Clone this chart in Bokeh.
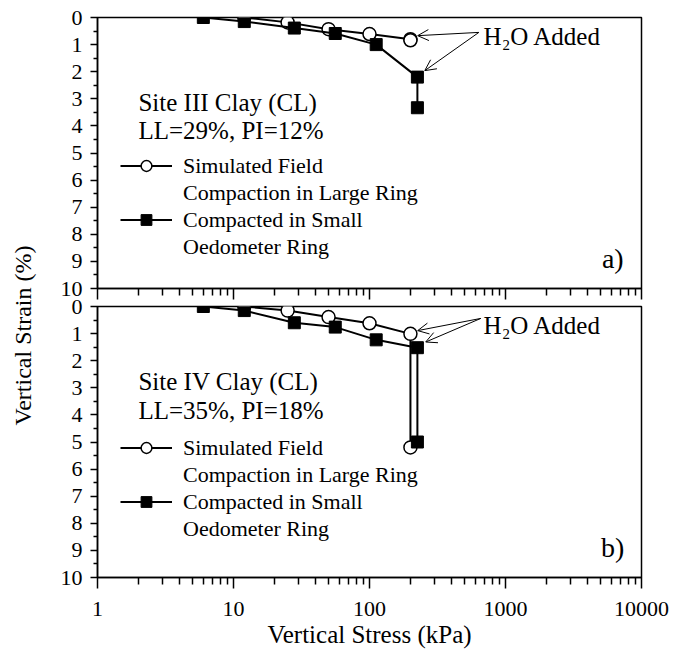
import math
from bokeh.plotting import figure
from bokeh.layouts import row, column
from bokeh.models import (Range1d, FixedTicker, Label, Arrow, OpenHead, Legend,
                          LegendItem, ColumnDataSource)
from bokeh.embed import file_html
from bokeh.resources import INLINE

# ---------------- data ----------------
# Panel a) Site III Clay
a_circle_stress = [12, 25, 50, 100, 200, 200]
a_circle_strain = [0.0, 0.18, 0.43, 0.61, 0.80, 0.84]
a_square_stress = [6, 12, 28, 56, 112, 225, 225]
a_square_strain = [0.0, 0.15, 0.39, 0.59, 1.0, 2.2, 3.33]

# Panel b) Site IV Clay
b_circle_stress = [12, 25, 50, 100, 200, 200]
b_circle_strain = [0.0, 0.15, 0.39, 0.62, 1.01, 5.2]
b_square_stress = [6, 12, 28, 56, 112, 225, 225]
b_square_strain = [0.0, 0.15, 0.6, 0.76, 1.23, 1.52, 5.0]

x_ticks = [1, 10, 100, 1000, 10000]
x_tick_labels = ["1", "10", "100", "1000", "10000"]
y_ticks = [0, 1, 2, 3, 4, 5, 6, 7, 8, 9, 10]
y_tick_labels = ["0", "1", "2", "3", "4", "5", "6", "7", "8", "9", "10"]

series_lines = [["Simulated Field", "Compaction in Large Ring"],
                ["Compacted in Small", "Oedometer Ring"]]

FONT = "Liberation Serif"
LABEL_W = 40
OVERLAP = 14


def make_panel(cs, ce, ss, se, info, tag, arrows, legend_y, bottom):
    p = figure(frame_width=544, frame_height=271,
               x_axis_type="log", x_range=Range1d(1, 10000), y_range=Range1d(10, 0),
               output_backend="svg", toolbar_location=None,
               min_border_left=57, min_border_right=42,
               min_border_top=OVERLAP if bottom else 17,
               min_border_bottom=79 if bottom else 18)
    p.background_fill_color = "white"
    if bottom:
        p.border_fill_alpha = 0
    else:
        p.border_fill_color = "white"
    p.outline_line_color = "black"
    p.outline_line_width = 1.5
    p.grid.visible = False

    minor_x = [m * 10 ** d for d in range(0, 4) for m in range(2, 10)]
    p.xaxis.ticker = FixedTicker(ticks=x_ticks, minor_ticks=minor_x)
    p.xaxis.major_label_overrides = {t: l for t, l in zip(x_ticks, x_tick_labels)}
    p.yaxis.ticker = FixedTicker(ticks=y_ticks, minor_ticks=[v + 0.5 for v in y_ticks[:-1]])
    p.yaxis.major_label_overrides = {t: l for t, l in zip(y_ticks, y_tick_labels)}

    for ax in (p.xaxis, p.yaxis):
        ax.axis_line_color = "black"
        ax.axis_line_width = 1.5
        ax.major_tick_line_color = "black"
        ax.minor_tick_line_color = "black"
        ax.major_tick_line_width = 1.5
        ax.minor_tick_line_width = 1.5
        ax.major_tick_in = 0
        ax.minor_tick_in = 0
        ax.major_label_text_font = FONT
        ax.major_label_text_font_size = "22px"
        ax.major_label_text_color = "black"
        ax.axis_label_text_font = FONT
        ax.axis_label_text_font_style = "normal"
        ax.axis_label_text_font_size = "25px"
        ax.axis_label_text_color = "black"
    p.xaxis.major_tick_out = 11
    p.xaxis.minor_tick_out = 7
    p.yaxis.major_tick_out = 7
    p.yaxis.minor_tick_out = 4
    p.yaxis.major_label_standoff = 8
    if bottom:
        p.xaxis.major_label_standoff = 13
        p.xaxis.axis_label = "Vertical Stress (kPa)"
        p.xaxis.axis_label_standoff = 2
    else:
        p.xaxis.major_label_text_color = None
        p.xaxis.major_label_text_font_size = "1px"
        p.xaxis.major_label_standoff = 0

    src_c = ColumnDataSource(dict(x=cs, y=ce))
    src_s = ColumnDataSource(dict(x=ss, y=se))
    lc = p.line("x", "y", source=src_c, line_color="black", line_width=2)
    mc = p.scatter("x", "y", source=src_c, marker="circle", size=13,
                   fill_color="white", line_color="black", line_width=1.5)
    ls = p.line("x", "y", source=src_s, line_color="black", line_width=2)
    ms = p.scatter("x", "y", source=src_s, marker="square", size=12,
                   fill_color="black", line_color="black", line_width=1)

    items = [LegendItem(label=series_lines[0][0], renderers=[lc, mc]),
             LegendItem(label=series_lines[0][1], renderers=[]),
             LegendItem(label=series_lines[1][0], renderers=[ls, ms]),
             LegendItem(label=series_lines[1][1], renderers=[])]
    legend = Legend(items=items, location=(23, legend_y), glyph_width=52, glyph_height=27,
                    label_standoff=11, spacing=0, padding=0, margin=0,
                    border_line_color=None, background_fill_alpha=0,
                    label_text_font=FONT, label_text_font_size="22px",
                    label_text_color="black", label_height=27)
    p.add_layout(legend)

    p.add_layout(Label(x=2.0, y=info[2], text=info[0] + "\n" + info[1],
                       text_font=FONT, text_font_size="25px", text_color="black",
                       text_baseline="middle", text_line_height=1.05))
    p.add_layout(Label(x=6150, y=8.9, text=tag, text_font=FONT, text_font_size="28px",
                       text_color="black", text_align="center", text_baseline="middle"))
    p.add_layout(Label(x=690, y=0.70, text="H\u2082O Added", text_font=FONT,
                       text_font_size="25px", text_color="black", text_baseline="middle"))
    for (x0, y0, x1, y1) in arrows:
        p.add_layout(Arrow(x_start=x0, y_start=y0, x_end=x1, y_end=y1,
                           line_color="black", line_width=1,
                           end=OpenHead(size=11, line_color="black", line_width=1)))
    return p


top = make_panel(a_circle_stress, a_circle_strain, a_square_stress, a_square_strain,
                 ("Site III Clay (CL)", "LL=29%, PI=12%", 3.65), "a)",
                 [(637, 0.55, 226, 0.67), (637, 0.55, 255, 1.96)], 28, bottom=False)
bot = make_panel(b_circle_stress, b_circle_strain, b_square_stress, b_square_strain,
                 ("Site IV Clay (CL)", "LL=35%, PI=18%", 3.3), "b)",
                 [(658, 0.44, 226, 0.89), (658, 0.44, 259, 1.31)], 35, bottom=True)
bot.margin = (-OVERLAP, 0, 0, 0)

lab = figure(width=LABEL_W, height=656, x_range=Range1d(0, 1), y_range=Range1d(0, 1),
             output_backend="svg", toolbar_location=None, min_border=0,
             x_axis_location=None, y_axis_location=None)
lab.outline_line_color = None
lab.grid.visible = False
lab.add_layout(Label(x=0.55, y=1 - 335 / 656, text="Vertical Strain (%)", angle=math.pi / 2,
                     text_font=FONT, text_font_size="24px", text_color="black",
                     text_align="center", text_baseline="middle"))

layout = row(lab, column(top, bot))
open("out.html", "w").write(file_html(layout, INLINE))
